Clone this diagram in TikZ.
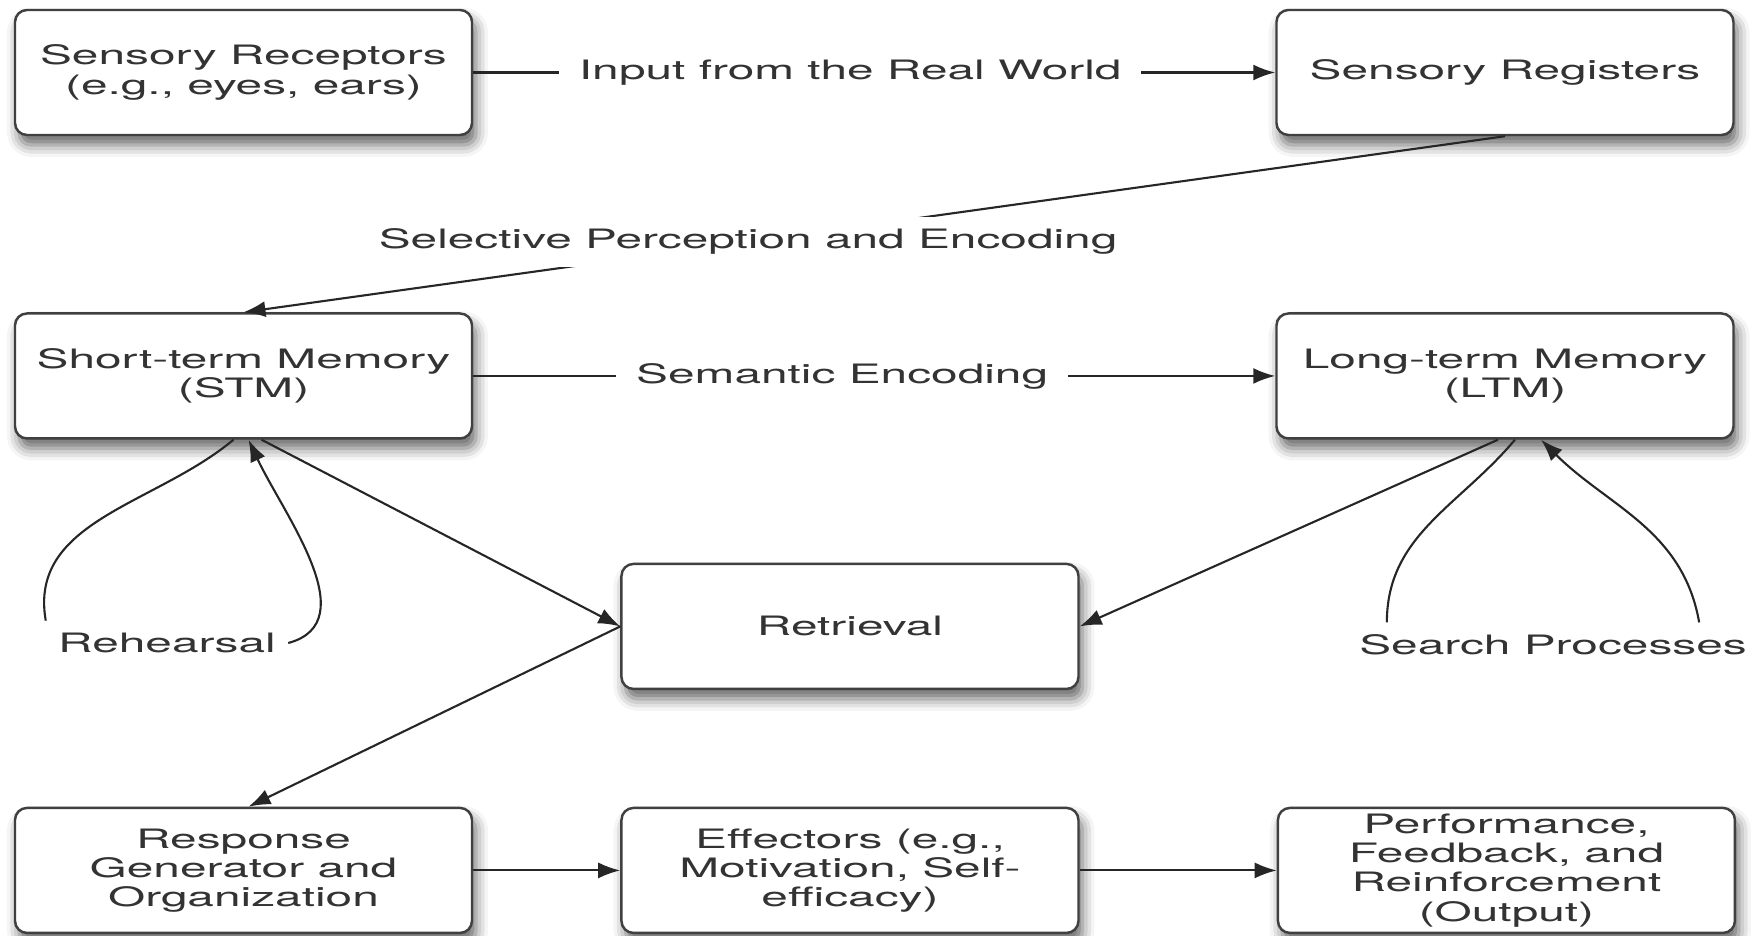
\documentclass[tikz,border=0pt]{standalone}
\usepackage{fontspec}
\setmainfont{TeX Gyre Heros}[FakeStretch=1.79]
\usetikzlibrary{positioning,arrows.meta,shadows.blur}

\begin{document}
\begin{tikzpicture}[stagebox/.style = {draw=black!75, line width=0.7pt, rounded corners=1.2mm, fill=white,
                      minimum width=4.57cm, minimum height=1.25cm, inner ysep=1pt, align=center, text=black!80,
                      font=\fontsize{7.6}{8.3}\selectfont,
                      blur shadow={shadow xshift=0.4mm, shadow yshift=-1mm, shadow blur radius=1.2mm, shadow opacity=60}},
                    flowlabel/.style = {fill=white, inner xsep=2mm, inner ysep=1.2mm, text=black!80,
                      font=\fontsize{7.6}{8.3}\selectfont},
                    looplabel/.style = {text=black!80, font=\fontsize{7.6}{8.3}\selectfont},
                    flow/.style = {draw=black!85, line width=0.6pt, -{Latex[length=2.2mm,width=1.6mm]}},
                    node distance=1.47cm]
     \useasboundingbox (0,0) rectangle (17.62,9.35);
     \node[stagebox] (receptors) at (2.435,8.625) {Sensory Receptors\\(e.g., eyes, ears)};
     \node[stagebox] (registers) [right=8.02cm of receptors] {Sensory Registers};
     \node[stagebox] (stm) [below=1.76cm of receptors] {Short-term Memory\\(STM)};
     \node[stagebox] (ltm) [below=1.76cm of registers] {Long-term Memory\\(LTM)};
     \node[stagebox] (retrieval) [below right=1.23cm and 1.47cm of stm] {Retrieval};
     \node[stagebox] (response) [below=3.67cm of stm] {Response\\Generator and\\Organization};
     \node[stagebox] (effectors) [right=of response] {Effectors (e.g.,\\Motivation, Self-\\efficacy)};
     \node[stagebox] (output) [right=1.97cm of effectors] {Performance,\\Feedback, and\\Reinforcement\\(Output)};
     \node[looplabel] (rehearsal) at (1.67,2.92) {Rehearsal};
     \node[looplabel] (search) at (15.53,2.90) {Search Processes};

     \draw[flow] (receptors) -- node[flowlabel, pos=0.47] {Input from the Real World} (registers);
     \draw[flow] (registers.south) -- node[flowlabel, pos=0.6] {Selective Perception and Encoding} (stm.north);
     \draw[flow] (stm) -- node[flowlabel, pos=0.46] {Semantic Encoding} (ltm);
     \draw[flow] ([xshift=0.18cm]stm.south) -- (retrieval.west);
     \draw[flow] ([xshift=-0.07cm]ltm.south) -- (retrieval.east);
     \draw[flow] (retrieval.west) -- ([xshift=0.05cm]response.north);
     \draw[flow] (response) -- (effectors);
     \draw[flow] (effectors) -- (output);
     % rehearsal loop
     \draw[flow, -] ([xshift=-0.1cm]stm.south) to[out=220, in=100] (rehearsal.north west);
     \draw[flow] (rehearsal.east) to[out=15, in=-65] ([xshift=0.05cm]stm.south);
     % search loop
     \draw[flow, -] ([xshift=0.1cm]ltm.south) to[out=230, in=90] ([xshift=0.4cm]search.north west);
     \draw[flow] ([xshift=-0.6cm]search.north east) to[out=100, in=-45] ([xshift=0.36cm]ltm.south);
\end{tikzpicture}
\end{document}
